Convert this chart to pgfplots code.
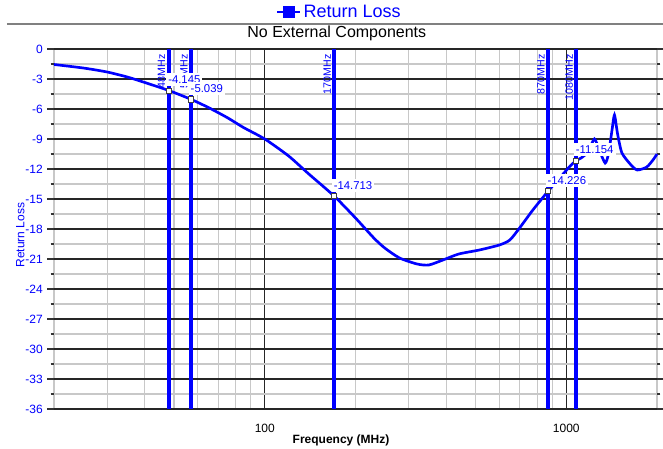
\documentclass[border=0pt]{standalone}
\usepackage{pgfplots}
\pgfplotsset{compat=1.18}
\usepackage{fontspec}
\setmainfont{Liberation Sans}

\definecolor{rlblue}{RGB}{0,0,255}
\definecolor{mingrid}{RGB}{200,200,200}

\tikzset{
    mklabel/.style={rotate=90, anchor=south east, text=rlblue,
        font=\fontsize{8}{9}\selectfont, inner sep=0.5pt},
    vallabel/.style={anchor=south west, fill=white, text=rlblue,
        font=\fontsize{8.5}{9}\selectfont, inner xsep=1.5pt, inner ysep=2pt,
        xshift=-2pt, yshift=3pt},
}

\begin{document}
\begin{tikzpicture}
\useasboundingbox (-40.5pt,-30pt) rectangle (456.75pt,306.75pt);
\begin{axis}[
    at={(0,0)}, anchor=south west,
    scale only axis,
    width=452.25pt, height=270pt,
    xmode=log,
    xmin=20, xmax=2000,
    ymin=-36, ymax=0,
    clip=false,
    xtick={100,1000},
    xticklabels={100,1000},
    minor xtick={20,30,40,50,60,70,80,90,200,300,400,500,600,700,800,900,2000},
    ytick={-36,-33,...,0},
    minor ytick={-34.5,-31.5,...,-1.5},
    grid=both,
    major grid style={black!85, line width=0.8pt},
    minor grid style={mingrid, line width=0.8pt},
    axis line style={draw=none},
    minor tick style={mingrid},
    ytick style={black!80, line width=0.8pt},
    xtick style={draw=none},
    tick align=outside,
    major tick length=5pt,
    minor tick length=2.5pt,
    /pgf/number format/assume math mode=true,
    yticklabel style={text=rlblue, font=\fontsize{9}{10}\selectfont},
    xticklabel style={font=\fontsize{9}{10}\selectfont, yshift=-2.5pt},
    xlabel={\textbf{Frequency (MHz)}},
    xlabel style={at={(axis description cs:0.476,-0.086)}, anchor=center,
        font=\fontsize{9}{10}\selectfont},
    ylabel={Return Loss},
    ylabel style={at={(axis description cs:-0.056,0.483)}, anchor=center,
        text=rlblue, font=\fontsize{9}{10}\selectfont},
    title={No External Components},
    every axis title shift=0pt,
    title style={at={(axis description cs:0.469,1.044)}, anchor=center,
        yshift=0pt, font=\fontsize{12}{14}\selectfont},
    legend style={at={(axis description cs:0.474,1.103)}, anchor=center,
        draw=none, fill=none, text=rlblue,
        font=\fontsize{13.5}{15}\selectfont},
]

\addlegendimage{rlblue, line width=1.5pt, mark=square*, mark size=3.8pt}
\addlegendentry{Return Loss}

% measured curve
\addplot[rlblue, line width=2pt, smooth, tension=0.4, forget plot] coordinates {
    (20,-1.55) (25,-1.9) (30,-2.3) (35,-2.8) (40,-3.35) (48,-4.145)
    (57,-5.039) (65,-5.85) (75,-6.85) (85,-7.85) (100,-9.0) (120,-10.7)
    (140,-12.5) (170,-14.713) (200,-16.9) (230,-18.9) (250,-19.9)
    (280,-20.9) (320,-21.5) (350,-21.6) (390,-21.1) (440,-20.5)
    (515,-20.1) (600,-19.6) (650,-19.1) (700,-17.9) (775,-16.1)
    (870,-14.226) (970,-12.6) (1030,-11.7) (1080,-11.154) (1120,-10.9)
    (1180,-10.3) (1240,-9.0) (1290,-10.2) (1346,-11.4) (1380,-10.5)
    (1420,-8.0) (1445,-6.6) (1480,-8.5) (1530,-10.4) (1640,-11.6)
    (1720,-12.1) (1850,-11.8) (1950,-11.0) (2000,-10.5)
};

% marker lines
\addplot[rlblue, line width=3.2pt, forget plot] coordinates {(48,0) (48,-36)};
\addplot[rlblue, line width=3.2pt, forget plot] coordinates {(57,0) (57,-36)};
\addplot[rlblue, line width=3.2pt, forget plot] coordinates {(170,0) (170,-36)};
\addplot[rlblue, line width=3.2pt, forget plot] coordinates {(870,0) (870,-36)};
\addplot[rlblue, line width=3.2pt, forget plot] coordinates {(1080,0) (1080,-36)};

\node[mklabel] at ([xshift=-1.8pt,yshift=-3.5pt]axis cs:48,0) {48MHz};
\node[mklabel] at ([xshift=-1.8pt,yshift=-3.5pt]axis cs:57,0) {57MHz};
\node[mklabel] at ([xshift=-1.8pt,yshift=-3.5pt]axis cs:170,0) {170MHz};
\node[mklabel] at ([xshift=-1.8pt,yshift=-3.5pt]axis cs:870,0) {870MHz};
\node[mklabel] at ([xshift=-1.8pt,yshift=-3.5pt]axis cs:1080,0) {1080MHz};

\node[vallabel] at (axis cs:48,-4.145) {-4.145};
\node[vallabel] at (axis cs:57,-5.039) {-5.039};
\node[vallabel] at (axis cs:170,-14.713) {-14.713};
\node[vallabel] at (axis cs:870,-14.226) {-14.226};
\node[vallabel] at (axis cs:1080,-11.154) {-11.154};

\addplot[only marks, mark=square*, mark size=1.9pt,
    mark options={fill=white, draw=black!75, line width=0.6pt}, forget plot]
    coordinates {(48,-4.145) (57,-5.039) (170,-14.713) (870,-14.226) (1080,-11.154)};

% separator under legend
\draw[black!50, line width=1.5pt] (axis description cs:-0.078,1.07) -- (axis description cs:1.01,1.07);
\end{axis}
\end{tikzpicture}
\end{document}
